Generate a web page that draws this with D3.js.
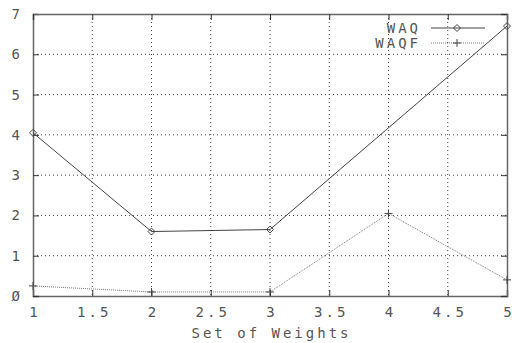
<!DOCTYPE html>
<html>
<head>
<meta charset="utf-8">
<script src="https://cdn.jsdelivr.net/npm/d3@7"></script>
<style>
  body { margin: 0; background: #fff; }
  text { font-family: "DejaVu Sans Mono", monospace; font-size: 14px; fill: #555; letter-spacing: 3px; }
</style>
</head>
<body>
<div id="chart"></div>
<script>
var svgWidth = 516;
var svgHeight = 343;

var margin = { top: 14, right: 9, bottom: 47, left: 33 };
var chartWidth = svgWidth - margin.left - margin.right;
var chartHeight = svgHeight - margin.top - margin.bottom;

// data
var weights = [1, 2, 3, 4, 5];
var waq = [4.05, 1.6, 1.65, null, 6.7];
var waqf = [0.25, 0.1, 0.1, 2.05, 0.4];
var xTicks = [1, 1.5, 2, 2.5, 3, 3.5, 4, 4.5, 5];
var yTicks = [0, 1, 2, 3, 4, 5, 6, 7];

var svg = d3.select("#chart").append("svg")
  .attr("width", svgWidth)
  .attr("height", svgHeight);

var chartGroup = svg.append("g")
  .attr("transform", `translate(${margin.left}, ${margin.top})`);

var xScale = d3.scaleLinear().domain([1, 5]).range([0, chartWidth]);
var yScale = d3.scaleLinear().domain([0, 7]).range([chartHeight, 0]);

// grid
chartGroup.append("g")
  .selectAll("line")
  .data(xTicks.slice(1, -1))
  .enter().append("line")
  .attr("x1", d => xScale(d)).attr("x2", d => xScale(d))
  .attr("y1", 0).attr("y2", chartHeight)
  .attr("stroke", "#444").attr("stroke-width", 1)
  .attr("stroke-dasharray", "1,3");

chartGroup.append("g")
  .selectAll("line")
  .data(yTicks.slice(1, -1))
  .enter().append("line")
  .attr("x1", 0).attr("x2", chartWidth)
  .attr("y1", d => yScale(d)).attr("y2", d => yScale(d))
  .attr("stroke", "#444").attr("stroke-width", 1)
  .attr("stroke-dasharray", "1,3");

// axes (ticks pointing inward on all four sides)
var xAxis = d3.axisBottom(xScale).tickValues(xTicks).tickSize(-6).tickPadding(11)
  .tickFormat(d => String(d));
var yAxis = d3.axisLeft(yScale).tickValues(yTicks).tickSize(-6).tickPadding(13)
  .tickFormat(d => d === 0 ? "\u00d8" : String(d));

var gx = chartGroup.append("g")
  .attr("transform", `translate(0, ${chartHeight})`)
  .call(xAxis);
var gy = chartGroup.append("g").call(yAxis);

chartGroup.append("g")
  .call(d3.axisTop(xScale).tickValues(xTicks).tickSize(-6).tickFormat(""));
chartGroup.append("g")
  .attr("transform", `translate(${chartWidth}, 0)`)
  .call(d3.axisRight(yScale).tickValues(yTicks).tickSize(-6).tickFormat(""));

chartGroup.selectAll(".domain").attr("stroke", "#666").attr("stroke-width", 1.5);
chartGroup.selectAll(".tick line").attr("stroke", "#333");
chartGroup.selectAll(".tick text")
  .attr("fill", "#555")
  .style("font-size", "14px")
  .style("font-family", "DejaVu Sans Mono, monospace");
gx.selectAll("text").attr("dx", "1.5px");
gy.selectAll("text").style("letter-spacing", "0px");

// series
var waqPts = weights.map((w, i) => [w, waq[i]]).filter(d => d[1] !== null);
var waqfPts = weights.map((w, i) => [w, waqf[i]]);

var line = d3.line().x(d => xScale(d[0])).y(d => yScale(d[1]));

chartGroup.append("path")
  .datum(waqPts)
  .attr("d", line)
  .attr("fill", "none")
  .attr("stroke", "#444")
  .attr("stroke-width", 1);

chartGroup.append("path")
  .datum(waqfPts)
  .attr("d", line)
  .attr("fill", "none")
  .attr("stroke", "#777")
  .attr("stroke-width", 1)
  .attr("stroke-dasharray", "1,1");

var diamond = "M0,-3.5L3.5,0L0,3.5L-3.5,0Z";
var plus = "M-4,0H4M0,-4V4";

chartGroup.selectAll(".waq")
  .data(waqPts)
  .enter().append("path")
  .attr("d", diamond)
  .attr("transform", d => `translate(${xScale(d[0])}, ${yScale(d[1])})`)
  .attr("fill", "none").attr("stroke", "#444");

chartGroup.selectAll(".waqf")
  .data(waqfPts)
  .enter().append("path")
  .attr("d", plus)
  .attr("transform", d => `translate(${xScale(d[0])}, ${yScale(d[1])})`)
  .attr("fill", "none").attr("stroke", "#444");

// legend
var legend = svg.append("g");
var legendItems = [
  { name: "WAQ", y: 28, dash: null, color: "#444", mark: diamond },
  { name: "WAQF", y: 43, dash: "1,1", color: "#777", mark: plus }
];
legendItems.forEach(function(item) {
  legend.append("text")
    .attr("x", 421).attr("y", item.y)
    .attr("dy", "0.35em")
    .attr("text-anchor", "end")
    .text(item.name);
  legend.append("line")
    .attr("x1", 431).attr("x2", 485)
    .attr("y1", item.y).attr("y2", item.y)
    .attr("stroke", item.color)
    .attr("stroke-dasharray", item.dash);
  legend.append("path")
    .attr("d", item.mark)
    .attr("transform", `translate(457, ${item.y})`)
    .attr("fill", "none").attr("stroke", "#444");
});

// axis title
svg.append("text")
  .attr("x", margin.left + xScale(3) + 1.5)
  .attr("y", 333)
  .attr("dy", "0.35em")
  .attr("text-anchor", "middle")
  .text("Set of Weights");
</script>
</body>
</html>
